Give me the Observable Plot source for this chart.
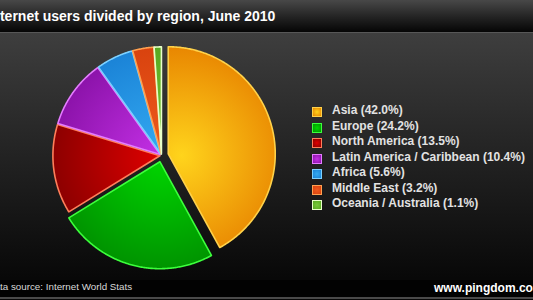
<!DOCTYPE html>
<html><head><meta charset="utf-8">
<script src="https://cdn.jsdelivr.net/npm/d3@7"></script>
<script src="https://cdn.jsdelivr.net/npm/@observablehq/plot@0.6"></script>
<style>
body{margin:0;background:#000;}
#wrap{position:relative;width:533px;height:300px;overflow:hidden;background:linear-gradient(#3e3e3e 33px,#262626 140px,#080808 278px);font-family:"Liberation Sans",Arial,sans-serif;}
#title{position:absolute;left:0;top:0;width:533px;height:32px;background:linear-gradient(#484848,#222 55%,#050505);border-bottom:1px solid #575757;}
#title span{position:absolute;left:-12.5px;top:8px;color:#fff;font-weight:bold;font-size:14px;white-space:nowrap;}
#chart{position:absolute;left:0;top:33px;}
#legend{position:absolute;left:312px;top:106px;}
.row{position:relative;height:15.55px;}
.sw{position:absolute;left:0;top:1px;width:8px;height:8px;border:1px solid;}
.lb{position:absolute;left:20px;top:-3px;color:#e2e2e2;font-weight:bold;font-size:12px;white-space:nowrap;}
#footer{position:absolute;left:0;top:280px;height:17px;width:533px;background:#020202;border-bottom:2px solid #4a4a4a;}
#src{position:absolute;left:-12.5px;top:1px;color:#d8d8d8;font-size:9.8px;white-space:nowrap;}
#www{position:absolute;left:434px;top:1px;color:#fff;font-weight:bold;font-size:12px;white-space:nowrap;}
</style></head>
<body>
<div id="wrap">
  <div id="title"><span>Internet users divided by region, June 2010</span></div>
  <div id="chart"></div>
  <div id="legend"></div>
  <div id="footer"><span id="src">Data source: Internet World Stats</span><span id="www">www.pingdom.com</span></div>
</div>
<script>
const regions = ["Asia","Europe","North America","Latin America / Caribbean","Africa","Middle East","Oceania / Australia"];
const shares = [42.0,24.2,13.5,10.4,5.6,3.2,1.1];

const innerColors = ["#ffd41c","#00d800","#e00000","#c430e6","#34aaf2","#ee5a1e","#78c83a"];
const outerColors = ["#e88400","#009400","#8a0000","#8a12a8","#1a82d6","#d8420e","#58a820"];
const strokeColors = ["#ffd24a","#3cff3c","#ff7e5a","#e47cff","#7cd0ff","#ffa050","#e8ffc8"];
const explode = [0.065,0.06,0.015,0.015,0.015,0.015,0.015];

const W = 533, H = 245;
const ml = 54, mr = 265, mt = 15, mb = 16;

const pie = d3.pie().sort(null).value(d => d.share)(regions.map((r,i)=>({region:r, share:shares[i], i})));

function slicePoints(s) {
  const i = s.data.i;
  const mid = (s.startAngle + s.endAngle) / 2;
  const ox = explode[i] * Math.sin(mid), oy = explode[i] * Math.cos(mid);
  const pts = [{x:ox, y:oy}];
  const n = Math.max(4, Math.ceil((s.endAngle - s.startAngle) / 0.01));
  for (let k = 0; k <= n; k++) {
    const a = s.startAngle + (s.endAngle - s.startAngle) * k / n;
    pts.push({x: ox + Math.sin(a), y: oy + Math.cos(a)});
  }
  return pts;
}

const marks = pie.map(s => Plot.line(slicePoints(s), {
  x: "x", y: "y", curve: "linear-closed",
  fill: `url(#g${s.data.i})`, stroke: strokeColors[s.data.i], strokeWidth: 1.6, strokeLinejoin: "round"
}));

const chart = Plot.plot({
  width: W, height: H,
  marginLeft: ml, marginRight: mr, marginTop: mt, marginBottom: mb,
  x: {domain: [-1, 1], axis: null},
  y: {domain: [-1, 1], axis: null},
  style: {background: "transparent"},
  marks
});

const cxp = ml + (W - ml - mr) / 2, cyp = mt + (H - mt - mb) / 2, rp = (W - ml - mr) / 2;
const defs = d3.select(chart).insert("defs", ":first-child");
regions.forEach((r, i) => {
  const g = defs.append("radialGradient").attr("id", "g" + i)
    .attr("gradientUnits", "userSpaceOnUse")
    .attr("cx", cxp + (i === 0 ? 20 : 0)).attr("cy", cyp).attr("r", rp * 1.05)
    .attr("fx", cxp + (i === 0 ? 20 : 0)).attr("fy", cyp);
  g.append("stop").attr("offset", "0%").attr("stop-color", innerColors[i]);
  g.append("stop").attr("offset", "100%").attr("stop-color", outerColors[i]);
});
document.getElementById("chart").appendChild(chart);

const leg = d3.select("#legend");
regions.forEach((r, i) => {
  const row = leg.append("div").attr("class", "row");
  row.append("div").attr("class", "sw")
    .style("background", `radial-gradient(${innerColors[i]}, ${outerColors[i]})`)
    .style("border-color", strokeColors[i]);
  row.append("div").attr("class", "lb").text(`${r} (${shares[i].toFixed(1)}%)`);
});
</script>
</body></html>
